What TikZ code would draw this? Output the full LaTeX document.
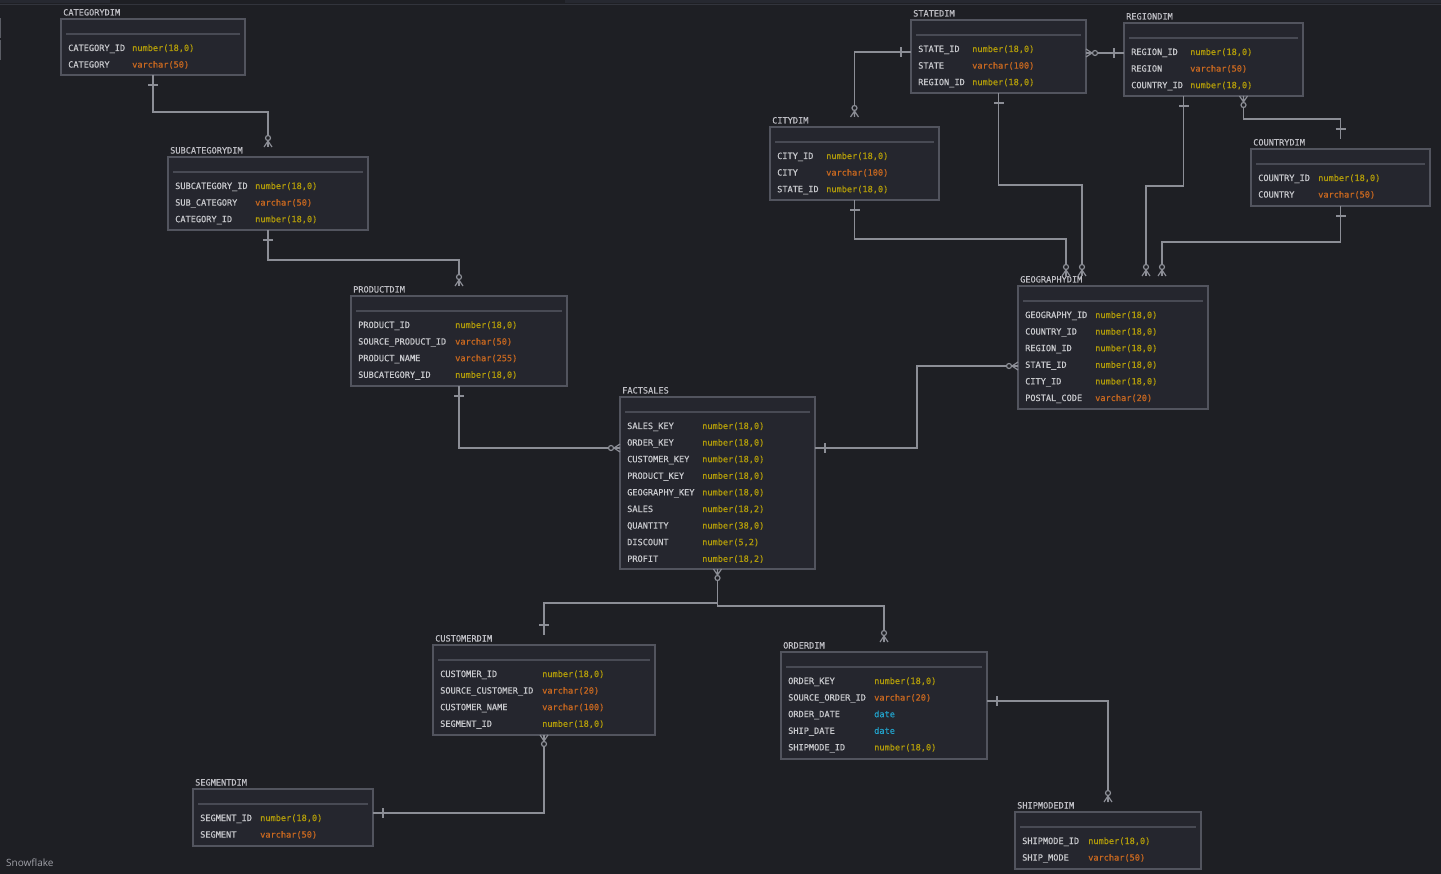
\documentclass[tikz,border=0pt]{standalone}
\usepackage{fontspec}
\setmainfont{Open Sans}
\newfontfamily\ermono[FakeBold=0.6]{DejaVu Sans Mono}
\usetikzlibrary{fit,calc}
\definecolor{bgc}{RGB}{30,31,36}
\definecolor{stripc}{RGB}{38,40,48}
\definecolor{stripl}{RGB}{50,52,60}
\definecolor{markc}{RGB}{90,92,100}
\definecolor{lblc}{RGB}{160,161,168}
\definecolor{boxc}{RGB}{37,38,46}
\definecolor{bordc}{RGB}{82,84,94}
\definecolor{sepc}{RGB}{72,74,84}
\definecolor{connc}{RGB}{140,142,150}
\definecolor{namec}{RGB}{200,201,205}
\definecolor{titlec}{RGB}{190,190,196}
\definecolor{numc}{RGB}{178,156,10}
\definecolor{varc}{RGB}{200,104,32}
\definecolor{datec}{RGB}{34,160,200}
\newcommand\Na{number(18,0)}
\newcommand\Nb{number(18,2)}
\newcommand\Nc{number(38,0)}
\newcommand\Nd{number(5,2)}
\newcommand\erf{\ermono\fontsize{8.6}{10}\selectfont}
\tikzset{
  ebox/.style={draw=bordc, line width=1.6pt, fill=boxc, inner sep=0pt, outer sep=0pt},
  sepl/.style={draw=sepc, line width=1.2pt},
  conn/.style={draw=connc, line width=1.2pt},
  ftitle/.style={anchor=base west, inner sep=0pt, text=titlec, font=\erf},
  fname/.style={anchor=base west, inner sep=0pt, text=namec, font=\erf},
  ftype/.style={anchor=base west, inner sep=0pt, font=\erf},
  pics/onebar/.style={code={\draw[conn] (10,-5) -- (10,5);}},
  pics/zmany/.style={code={\draw[conn] (0,-4) -- (6,0) -- (0,4) (0,0) -- (6,0); \draw[conn,fill=bgc] (9,0) circle[radius=2.5];}},
}
\newcommand\erbox[8]{%
  \node[ebox, fit={(#2,#3) (#4,#5)}] (#1) {};
  \node[ftitle] (#1-title) at (#2+2,#3-3.5) {#6};
  \draw[sepl] (#2+5,#3+15) -- (#4-5,#3+15);
  \foreach \n/\t/\s [count=\i from 0] in {#8} {
    \node[fname] (#1-n\i) at (#2+7,#3+32+16.6*\i) {\n};
    \node[ftype, text=\s] (#1-t\i) at (#7,#3+32+16.6*\i) {\t};
  }
}
\begin{document}
\begin{tikzpicture}[x=1pt,y=-1pt]
\fill[bgc] (0,0) rectangle (1441,874);
\useasboundingbox (0,0) rectangle (1441,874);
% top strip
\fill[stripc] (0,0) rectangle (110,3.5);
\fill[stripc] (565,0) rectangle (1441,3.5);
\draw[stripl, line width=1pt] (0,4.5) -- (1441,4.5);
\draw[markc, line width=1pt] (0.5,18) -- (0.5,38) (0.5,40) -- (0.5,60);

% tables
\erbox{cat}{61}{19}{245}{75}{CATEGORYDIM}{132}{CATEGORY\_ID/\Na/numc,CATEGORY/varchar(50)/varc}
\erbox{sub}{168}{157}{368}{230}{SUBCATEGORYDIM}{255}{SUBCATEGORY\_ID/\Na/numc,SUB\_CATEGORY/varchar(50)/varc,CATEGORY\_ID/\Na/numc}
\erbox{prod}{351}{296}{567}{386}{PRODUCTDIM}{455}{PRODUCT\_ID/\Na/numc,SOURCE\_PRODUCT\_ID/varchar(50)/varc,PRODUCT\_NAME/varchar(255)/varc,SUBCATEGORY\_ID/\Na/numc}
\erbox{fact}{620}{397}{815}{569}{FACTSALES}{702}{SALES\_KEY/\Na/numc,ORDER\_KEY/\Na/numc,CUSTOMER\_KEY/\Na/numc,PRODUCT\_KEY/\Na/numc,GEOGRAPHY\_KEY/\Na/numc,SALES/\Nb/numc,QUANTITY/\Nc/numc,DISCOUNT/\Nd/numc,PROFIT/\Nb/numc}
\erbox{geo}{1018}{286}{1208}{409}{GEOGRAPHYDIM}{1095}{GEOGRAPHY\_ID/\Na/numc,COUNTRY\_ID/\Na/numc,REGION\_ID/\Na/numc,STATE\_ID/\Na/numc,CITY\_ID/\Na/numc,POSTAL\_CODE/varchar(20)/varc}
\erbox{state}{911}{20}{1086}{93}{STATEDIM}{972}{STATE\_ID/\Na/numc,STATE/varchar(100)/varc,REGION\_ID/\Na/numc}
\erbox{region}{1124}{23}{1303}{96}{REGIONDIM}{1190}{REGION\_ID/\Na/numc,REGION/varchar(50)/varc,COUNTRY\_ID/\Na/numc}
\erbox{city}{770}{127}{939}{200}{CITYDIM}{826}{CITY\_ID/\Na/numc,CITY/varchar(100)/varc,STATE\_ID/\Na/numc}
\erbox{country}{1251}{149}{1430}{206}{COUNTRYDIM}{1318}{COUNTRY\_ID/\Na/numc,COUNTRY/varchar(50)/varc}
\erbox{cust}{433}{645}{655}{735}{CUSTOMERDIM}{542}{CUSTOMER\_ID/\Na/numc,SOURCE\_CUSTOMER\_ID/varchar(20)/varc,CUSTOMER\_NAME/varchar(100)/varc,SEGMENT\_ID/\Na/numc}
\erbox{order}{781}{652}{987}{759}{ORDERDIM}{874}{ORDER\_KEY/\Na/numc,SOURCE\_ORDER\_ID/varchar(20)/varc,ORDER\_DATE/date/datec,SHIP\_DATE/date/datec,SHIPMODE\_ID/\Na/numc}
\erbox{seg}{193}{789}{373}{846}{SEGMENTDIM}{260}{SEGMENT\_ID/\Na/numc,SEGMENT/varchar(50)/varc}
\erbox{ship}{1015}{812}{1201}{869}{SHIPMODEDIM}{1088}{SHIPMODE\_ID/\Na/numc,SHIP\_MODE/varchar(50)/varc}

% connection points
\coordinate (sub-top) at ([yshift=10pt]sub.north);
\coordinate (prod-top) at ([yshift=10pt]prod.north);
\coordinate (fact-w) at ($(fact.north west)+(0,51)$);
\coordinate (fact-e) at ($(fact.north east)+(0,51)$);
\coordinate (geo-w) at ($(geo.north west)+(0,80)$);
\coordinate (cust-top) at ([yshift=10pt]cust.north);
\coordinate (order-top) at ([yshift=10pt]order.north);
\coordinate (seg-e) at ($(seg.north east)+(0,24)$);
\coordinate (order-e) at ($(order.north east)+(0,49)$);
\coordinate (ship-top) at ([yshift=10pt]ship.north);
\coordinate (state-w) at ($(state.north west)+(0,32)$);
\coordinate (state-e) at ($(state.north east)+(0,33)$);
\coordinate (region-w) at ($(region.north west)+(0,30)$);
\coordinate (city-top) at ([yshift=10pt]city.north);
\coordinate (geo-t1) at ($(geo.north west)+(48,-10)$);
\coordinate (geo-t2) at ($(geo.north west)+(64,-10)$);
\coordinate (geo-t3) at ($(geo.north west)+(128,-10)$);
\coordinate (geo-t4) at ($(geo.north west)+(144,-10)$);
\coordinate (region-s1) at ($(region.south)+(-30,0)$);
\coordinate (region-s2) at ($(region.south)+(30,0)$);
\coordinate (country-top) at ([yshift=10pt]country.north);

% connectors
\draw[conn] (cat.south) -- ++(0,37) -| (sub-top);
\draw[conn] (sub.south) -- ++(0,30) -| (prod-top);
\draw[conn] (prod.south) |- (fact-w);
\draw[conn] (fact-e) -- ++(102,0) |- (geo-w);
\draw[conn] (fact.south) -- ++(0,34) -| (cust-top);
\draw[conn] (fact.south) -- ++(0,37) -| (order-top);
\draw[conn] (cust.south) |- (seg-e);
\draw[conn] (order-e) -| (ship-top);
\draw[conn] (state-w) -| (city-top);
\draw[conn] (state-e) -- (region-w);
\draw[conn] (city.south) -- ++(0,39) -| (geo-t1);
\draw[conn] (state.south) -- ++(0,92) -| (geo-t2);
\draw[conn] (region-s1) -- ++(0,90) -| (geo-t3);
\draw[conn] (country.south) -- ++(0,36) -| (geo-t4);
\draw[conn] (region-s2) -- ++(0,23) -| (country-top);

% ends
\pic[rotate=-90] at (cat.south) {onebar};
\pic[rotate=90] at (sub-top) {zmany};
\pic[rotate=-90] at (sub.south) {onebar};
\pic[rotate=90] at (prod-top) {zmany};
\pic[rotate=-90] at (prod.south) {onebar};
\pic[rotate=180] at (fact-w) {zmany};
\pic[rotate=0] at (fact-e) {onebar};
\pic[rotate=180] at (geo-w) {zmany};
\pic[rotate=-90] at (fact.south) {zmany};
\pic[rotate=90] at (cust-top) {onebar};
\pic[rotate=90] at (order-top) {zmany};
\pic[rotate=-90] at (cust.south) {zmany};
\pic[rotate=0] at (seg-e) {onebar};
\pic[rotate=0] at (order-e) {onebar};
\pic[rotate=90] at (ship-top) {zmany};
\pic[rotate=180] at (state-w) {onebar};
\pic[rotate=90] at (city-top) {zmany};
\pic[rotate=0] at (state-e) {zmany};
\pic[rotate=180] at (region-w) {onebar};
\pic[rotate=-90] at (city.south) {onebar};
\pic[rotate=90] at (geo-t1) {zmany};
\pic[rotate=-90] at (state.south) {onebar};
\pic[rotate=90] at (geo-t2) {zmany};
\pic[rotate=-90] at (region-s1) {onebar};
\pic[rotate=90] at (geo-t3) {zmany};
\pic[rotate=-90] at (country.south) {onebar};
\pic[rotate=90] at (geo-t4) {zmany};
\pic[rotate=-90] at (region-s2) {zmany};
\pic[rotate=90] at (country-top) {onebar};

\node[anchor=base west, inner sep=0pt, text=lblc, font=\fontsize{10}{12}\selectfont] (lbl) at (6,866) {Snowflake};
\end{tikzpicture}
\end{document}
